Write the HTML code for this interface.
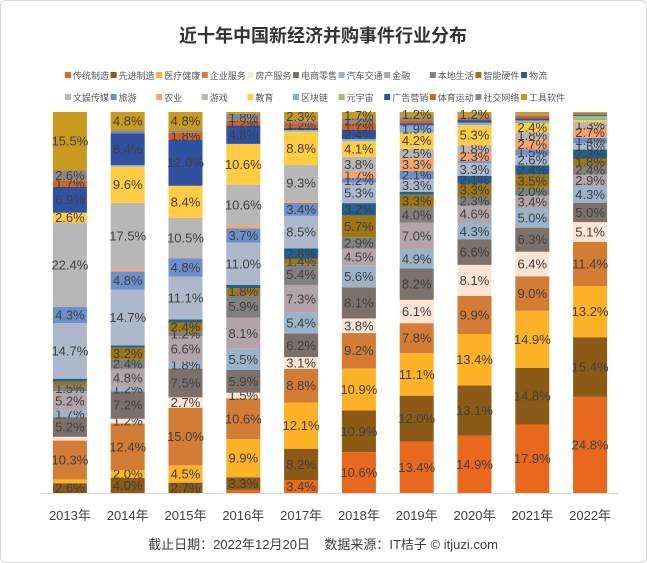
<!DOCTYPE html>
<html><head><meta charset="utf-8">
<style>
body{margin:0;background:#fff;}
#wrap{position:relative;width:645px;height:561px;border:1px solid #d9d9d9;border-radius:6px;background:#fff;font-family:"Liberation Sans","Noto Sans CJK SC",sans-serif;overflow:hidden;}
</style></head>
<body>
<div id="wrap">
<svg id="chart" width="645" height="561"></svg>
</div>
<script>
const categories = ["传统制造","先进制造","医疗健康","企业服务","房产服务","电商零售","汽车交通","金融","本地生活","智能硬件","物流","文娱传媒","旅游","农业","游戏","教育","区块链","元宇宙","广告营销","体育运动","社交网络","工具软件"];
const colors = ["#E8681D","#8B5A17","#FDB227","#D27C36","#FCE4D6","#7B716A","#9BB3C8","#B3A4A9","#808080","#9E7515","#255E91","#ADB9CA","#6D8FCB","#F4A46C","#B7B7B7","#FFCC44","#82AEDC","#92C36E","#2F52A0","#D2621F","#8A8A8A","#C99A1F"];
const years = ["2013年","2014年","2015年","2016年","2017年","2018年","2019年","2020年","2021年","2022年"];
const v2013 = [0,2.6,1.0,10.3,1.0,5.2,1.7,5.2,1.5,1.0,0.8,14.7,4.3,0,22.4,2.6,0,0,6.9,1.7,2.6,15.5];
const v2014 = [0,4.0,2.0,12.4,1.2,7.2,1.2,4.8,2.4,3.2,0.6,14.7,4.8,0.6,17.5,9.6,0.4,0,8.4,0,0.8,4.8];
const v2015 = [0,2.7,4.5,15.0,2.7,7.5,1.8,6.6,1.2,2.4,0.8,11.1,4.8,0,10.5,8.4,0,0,12.0,1.8,0.6,4.8];
const v2016 = [0.8,3.3,9.9,10.6,1.5,5.9,5.5,8.1,5.9,1.8,0.8,11.0,3.7,0.8,10.6,10.6,0,0,4.8,1.2,1.8,0.5];
const v2017 = [3.4,8.2,12.1,8.8,3.1,6.2,5.4,7.3,5.4,1.4,2.8,8.5,3.4,0.6,9.3,8.8,0.4,0,0.6,1.2,0.6,2.3];
const v2018 = [10.6,10.9,10.9,9.2,3.8,8.1,5.6,4.5,2.9,5.7,3.2,5.3,1.2,1.7,3.8,4.1,0.6,0,2.4,1.7,1.2,1.7];
const v2019 = [13.4,12.0,11.1,7.8,6.1,8.2,4.9,7.0,4.0,3.3,0.8,3.3,2.1,3.3,2.5,4.2,1.9,0,0.5,0.8,1.0,1.2];
const v2020 = [14.9,13.1,13.4,9.9,8.1,6.6,4.3,4.6,2.3,3.3,2.1,3.3,0.5,2.3,1.8,5.3,0.6,0,0.7,0.4,0.5,1.2];
const v2021 = [17.9,14.8,14.9,9.0,6.4,6.3,5.0,3.4,2.0,3.5,2.4,2.6,1.5,2.7,1.8,2.4,0.4,0.3,0.5,0.7,0.3,0.7];
const v2022 = [24.8,15.4,13.2,11.4,5.1,5.0,4.3,2.9,2.4,1.8,2.3,1.6,1.4,2.7,1.3,0.6,0.3,0.8,0.3,0.3,0.2,0.2];
const seriesByYear = [v2013,v2014,v2015,v2016,v2017,v2018,v2019,v2020,v2021,v2022];

const NS="http://www.w3.org/2000/svg";
const svg=document.getElementById('chart');
function mk(tag,attrs){const e=document.createElementNS(NS,tag);for(const k in attrs)e.setAttribute(k,attrs[k]);return e;}
const plotTop=111, plotBottom=492, x0=40, x1=618, barW=34;
const step=(x1-x0)/years.length;
function xCenter(i){return x0+step*(i+0.5);}
function yScale(frac){return plotBottom-frac*(plotBottom-plotTop);}

const title=mk('text',{x:322,y:41,'text-anchor':'middle','font-size':'18','font-weight':'bold',fill:'#333'});
title.textContent='近十年中国新经济并购事件行业分布';


svg.appendChild(title);

categories.forEach((c,i)=>{
  const row=Math.floor(i/11), col=i%11;
  const lx=64+col*45.6, ly=75+row*22;
  const g=mk('g',{});
  
  
  g.appendChild(mk('rect',{x:lx,y:ly-4,width:6,height:6,fill:colors[i]}));
  const t=mk('text',{x:lx+8,y:ly+3,'font-size':'9',fill:'#595959'});
  t.textContent=c;
  g.appendChild(t);
  svg.appendChild(g);
});

seriesByYear.forEach((vals,yi)=>{
  const total=vals.reduce((a,b)=>a+b,0);
  let cum=0;
  const cx=xCenter(yi);
  vals.forEach((v,ci)=>{
    if(v<=0)return;
    const yb=yScale(cum/total), yt=yScale((cum+v)/total);
    cum+=v;
    const r=mk('rect',{x:cx-barW/2,y:yt,width:barW,height:Math.max(0,yb-yt),fill:colors[ci]});
    
    
    svg.appendChild(r);
    if(v>=1.2){
      const t=mk('text',{x:cx,y:(yt+yb)/2+4.5,'text-anchor':'middle','font-size':'13',fill:'#404040'});
      t.textContent=v.toFixed(1)+'%';
      
      
      svg.appendChild(t);
    }
  });
  const yl=mk('text',{x:cx,y:519,'text-anchor':'middle','font-size':'13',fill:'#404040'});
  yl.textContent=years[yi];
  
  
  svg.appendChild(yl);
});

const axis=mk('line',{x1:x0,y1:plotBottom+0.5,x2:x1,y2:plotBottom+0.5,stroke:'#d9d9d9','stroke-width':1});


svg.appendChild(axis);

const foot=mk('text',{x:322,y:548,'text-anchor':'middle','font-size':'13',fill:'#404040'});
foot.textContent='截止日期：2022年12月20日    数据来源：IT桔子 © itjuzi.com';


foot.setAttribute('xml:space','preserve');
foot.style.whiteSpace='pre';
svg.appendChild(foot);
</script>
</body></html>
